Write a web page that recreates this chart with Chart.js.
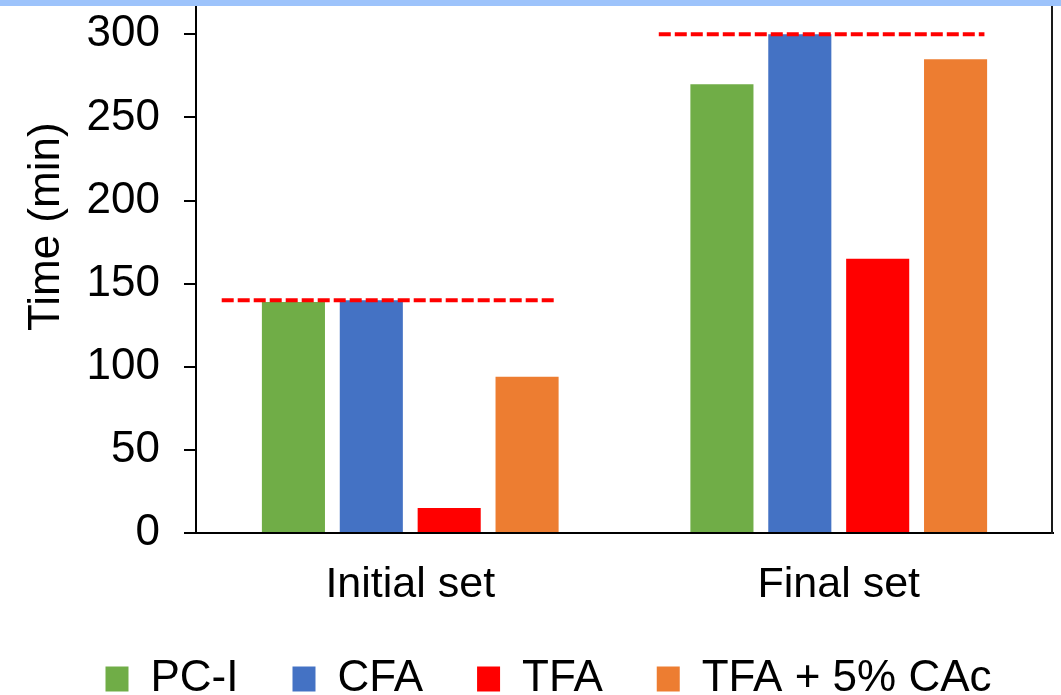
<!DOCTYPE html>
<html>
<head>
<meta charset="utf-8">
<script src="https://cdn.jsdelivr.net/npm/chart.js@4/dist/chart.umd.min.js"></script>
<style>
  html, body { margin: 0; padding: 0; background: #ffffff; }
  #wrap { position: relative; width: 1061px; height: 695px; }
</style>
</head>
<body>
<div id="wrap"><canvas id="chart" width="1061" height="695"></canvas></div>
<script>
// Categories and series (minutes)
const categories = ['Initial set', 'Final set'];
const seriesNames = ['PC-I', 'CFA', 'TFA', 'TFA + 5% CAc'];
const pcI = [139, 270];
const cfa = [140, 300];
const tfa = [15, 165];
const tfaCAc = [94, 285];
// Reference level for each group, drawn as a dashed line
const refLevels = [140, 300];
// Y-axis tick values
const yTicks = [0, 50, 100, 150, 200, 250, 300];

const colors = ['#70ad47', '#4472c4', '#ff0000', '#ed7d31'];
const seriesValues = [pcI, cfa, tfa, tfaCAc];

// horizontal extent of each dashed line, in category units (0 = first group center)
const refSpan = [[-0.44, 0.34], [0.58, 1.34]];

const FONT = "'Liberation Sans', Arial, sans-serif";

const barSets = seriesNames.map((name, i) => ({
  label: name,
  data: seriesValues[i],
  backgroundColor: colors[i],
  borderWidth: 0
}));

// dashed reference lines positioned through the chart's scales
const refLinePlugin = {
  id: 'refLines',
  afterDatasetsDraw(chart) {
    const { ctx, scales: { x, y } } = chart;
    const p0 = x.getPixelForValue(0);
    const p1 = x.getPixelForValue(1);
    const unit = p1 - p0;
    ctx.save();
    ctx.strokeStyle = '#ff0000';
    ctx.lineWidth = 4;
    ctx.setLineDash([12, 4]);
    refLevels.forEach((lvl, i) => {
      const yy = y.getPixelForValue(lvl);
      ctx.beginPath();
      ctx.moveTo(p0 + refSpan[i][0] * unit, yy);
      ctx.lineTo(p0 + refSpan[i][1] * unit, yy);
      ctx.stroke();
    });
    ctx.restore();
  }
};

// top band and right frame line
const framePlugin = {
  id: 'frame',
  afterDraw(chart) {
    const { ctx, chartArea } = chart;
    ctx.save();
    ctx.strokeStyle = '#1a1a1a';
    ctx.lineWidth = 2;
    ctx.beginPath();
    ctx.moveTo(chartArea.right - 1, chartArea.top);
    ctx.lineTo(chartArea.right - 1, chartArea.bottom + 1);
    ctx.stroke();
    ctx.fillStyle = '#9dc3fb';
    ctx.fillRect(0, 0, chart.width, 6);
    ctx.restore();
  }
};

new Chart(document.getElementById('chart'), {
  type: 'bar',
  data: { labels: categories, datasets: barSets },
  options: {
    responsive: false,
    animation: false,
    layout: { padding: { top: 6, right: 8, left: 44, bottom: 0 } },
    datasets: { bar: { categoryPercentage: 0.727, barPercentage: 0.81 } },
    plugins: {
      tooltip: { enabled: false },
      legend: {
        position: 'bottom',
        maxHeight: 92,
        labels: {
          font: { family: FONT, size: 44 },
          color: '#000',
          boxWidth: 23,
          boxHeight: 25,
          padding: 54
        }
      }
    },
    scales: {
      x: {
        type: 'category',
        offset: true,
        grid: { display: false, drawTicks: false },
        border: { display: true, color: '#000', width: 2 },
        ticks: { font: { family: FONT, size: 43 }, color: '#000', padding: 26 },
        afterFit(scale) {
          scale.height = 70;
          scale.paddingLeft = 0; scale.paddingRight = 0;
        }
      },
      y: {
        min: 0,
        max: 317,
        afterBuildTicks(scale) { scale.ticks = yTicks.map(v => ({ value: v })); },
        grid: { drawOnChartArea: false, drawTicks: true, tickLength: 12, color: '#000', lineWidth: 2 },
        border: { display: true, color: '#000', width: 2 },
        ticks: { font: { family: FONT, size: 44 }, color: '#000', padding: 24 },
        title: {
          display: true,
          text: '       Time (min)',
          font: { family: FONT, size: 44 },
          color: '#000',
          padding: { top: -24, bottom: 0 }
        },
        afterFit(scale) {
          scale.width = 152;
          scale.paddingTop = 0; scale.paddingBottom = 0;
        }
      }
    }
  },
  plugins: [refLinePlugin, framePlugin]
});
</script>
</body>
</html>
